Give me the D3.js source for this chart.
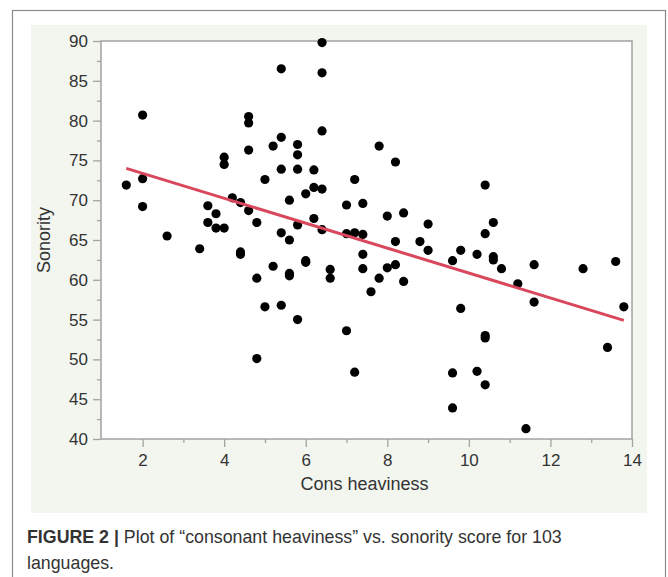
<!DOCTYPE html>
<html>
<head>
<meta charset="utf-8">
<script src="https://cdn.jsdelivr.net/npm/d3@7"></script>
<style>
  body { margin: 0; background: #fff; }
  text { font-family: "Liberation Sans", Arial, sans-serif; }
</style>
</head>
<body>
<div id="chart"></div>
<script>
const width = 668;
const height = 577;

// cons heaviness (x) and sonority (y), one entry per language
const consHeaviness = [
  1.6, 2, 2, 2, 2.6, 3.4, 3.6, 3.6, 3.8, 3.8,
  4, 4, 4, 4.2, 4.4, 4.4, 4.4, 4.6, 4.6, 4.6,
  4.6, 4.8, 4.8, 4.8, 5, 5, 5.2, 5.2, 5.4, 5.4,
  5.4, 5.4, 5.4, 5.6, 5.6, 5.6, 5.6, 5.8, 5.8, 5.8,
  5.8, 5.8, 6, 6, 6, 6.2, 6.2, 6.2, 6.4, 6.4,
  6.4, 6.4, 6.4, 6.6, 6.6, 7, 7, 7, 7.2, 7.2,
  7.2, 7.4, 7.4, 7.4, 7.4, 7.6, 7.8, 7.8, 8, 8,
  8.2, 8.2, 8.2, 8.4, 8.4, 8.8, 9, 9, 9.6, 9.6,
  9.6, 9.8, 9.8, 10.2, 10.2, 10.4, 10.4, 10.4, 10.4, 10.4,
  10.6, 10.6, 10.6, 10.8, 11.2, 11.4, 11.6, 11.6, 12.8, 13.6,
  13.4, 13.8
];
const sonority = [
  71.9, 80.7, 72.7, 69.2, 65.5, 63.9, 69.3, 67.2, 68.3, 66.5,
  66.5, 75.4, 74.5, 70.3, 69.7, 63.5, 63.2, 80.5, 79.7, 76.3,
  68.7, 67.2, 60.2, 50.1, 72.6, 56.6, 76.8, 61.7, 86.5, 77.9,
  73.9, 65.9, 56.8, 70.0, 65.0, 60.8, 60.5, 77.0, 75.7, 73.9,
  66.9, 55.0, 70.8, 62.4, 62.2, 73.8, 71.6, 67.7, 89.8, 86.0,
  78.7, 71.4, 66.3, 61.3, 60.2, 69.4, 65.8, 53.6, 72.6, 65.9,
  48.4, 69.6, 65.7, 63.2, 61.4, 58.5, 76.8, 60.2, 68.0, 61.5,
  74.8, 64.8, 61.9, 68.4, 59.8, 64.8, 67.0, 63.7, 62.4, 48.3,
  43.9, 63.7, 56.4, 63.2, 48.5, 71.9, 65.8, 53.0, 52.7, 46.8,
  67.2, 62.9, 62.5, 61.4, 59.5, 41.3, 61.9, 57.2, 61.4, 62.3,
  51.5, 56.6
];

// fitted line end points
const fitX = [1.6, 13.8];
const fitY = [74.0, 54.9];

const xTicks = [2, 4, 6, 8, 10, 12, 14];
const xMinorTicks = [3, 5, 7, 9, 11, 13];
const yTicks = [40, 45, 50, 55, 60, 65, 70, 75, 80, 85, 90];
const yMinorTicks = [42.5, 47.5, 52.5, 57.5, 62.5, 67.5, 72.5, 77.5, 82.5, 87.5];

const plot = { left: 101, top: 41, right: 632, bottom: 439 };

const svg = d3.select("#chart")
  .append("svg")
  .attr("width", width)
  .attr("height", height);

// outer frame and panel background
svg.append("rect")
  .attr("x", 12.5).attr("y", 10.5)
  .attr("width", 653).attr("height", 600)
  .attr("fill", "#fff")
  .attr("stroke", "#8a8a8a")
  .attr("stroke-width", 1.2);

svg.append("rect")
  .attr("x", 31).attr("y", 25)
  .attr("width", 616).attr("height", 488)
  .attr("fill", "#f2f6ef");

const x = d3.scaleLinear().domain([0.98, 14]).range([plot.left, plot.right]);
const y = d3.scaleLinear().domain([40, 90]).range([plot.bottom, plot.top]);

svg.append("rect")
  .attr("x", plot.left).attr("y", plot.top)
  .attr("width", plot.right - plot.left)
  .attr("height", plot.bottom - plot.top)
  .attr("fill", "#fff")
  .attr("stroke", "#a3a3a3")
  .attr("stroke-width", 1.5);

// axes
svg.append("g")
  .attr("transform", `translate(0,${plot.bottom})`)
  .call(d3.axisBottom(x).tickValues(xTicks).tickSize(8).tickPadding(7));

svg.append("g")
  .attr("transform", `translate(0,${plot.bottom})`)
  .call(d3.axisBottom(x).tickValues(xMinorTicks).tickSize(4).tickFormat(""));

svg.append("g")
  .attr("transform", `translate(${plot.left},0)`)
  .call(d3.axisLeft(y).tickValues(yTicks).tickSize(8).tickPadding(5));

svg.append("g")
  .attr("transform", `translate(${plot.left},0)`)
  .call(d3.axisLeft(y).tickValues(yMinorTicks).tickSize(4).tickFormat(""));

svg.selectAll(".domain").remove();
svg.selectAll(".tick line").attr("stroke", "#a3a3a3").attr("stroke-width", 1.3);
svg.selectAll(".tick text")
  .attr("fill", "#333")
  .style("font-size", "17px")
  .style("font-family", "'Liberation Sans', Arial, sans-serif");

// axis titles
svg.append("text")
  .attr("x", (plot.left + plot.right) / 2 - 2)
  .attr("y", 490)
  .attr("text-anchor", "middle")
  .attr("fill", "#333")
  .style("font-size", "18px")
  .text("Cons heaviness");

svg.append("text")
  .attr("transform", `translate(50,${(plot.top + plot.bottom) / 2}) rotate(-90)`)
  .attr("text-anchor", "middle")
  .attr("fill", "#333")
  .style("font-size", "18px")
  .text("Sonority");

// points
const points = consHeaviness.map((d, i) => ({ x: d, y: sonority[i] }));

svg.append("g")
  .selectAll("circle")
  .data(points)
  .join("circle")
  .attr("cx", d => x(d.x))
  .attr("cy", d => y(d.y))
  .attr("r", 4.6)
  .attr("fill", "#000");

// fit line
svg.append("path")
  .datum(fitX.map((d, i) => [d, fitY[i]]))
  .attr("fill", "none")
  .attr("stroke", "#d9475c")
  .attr("stroke-width", 3)
  .attr("d", d3.line().x(d => x(d[0])).y(d => y(d[1])));

// caption
const caption = svg.append("text")
  .attr("x", 27)
  .attr("y", 543)
  .attr("fill", "#333")
  .style("font-size", "17.8px");
caption.append("tspan").attr("font-weight", "bold").text("FIGURE 2 | ");
caption.append("tspan").text("Plot of \u201cconsonant heaviness\u201d vs. sonority score for 103");

svg.append("text")
  .attr("x", 27)
  .attr("y", 569)
  .attr("fill", "#333")
  .style("font-size", "17.8px")
  .text("languages.");
</script>
</body>
</html>
